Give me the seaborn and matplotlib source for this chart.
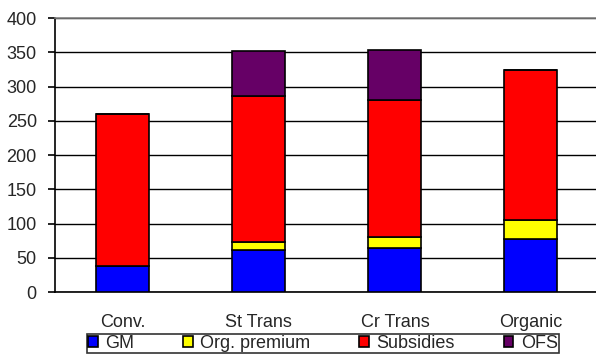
import numpy as np
import pandas as pd
import matplotlib
matplotlib.use("Agg")
import matplotlib.pyplot as plt
import seaborn as sns
from matplotlib.patches import Patch

categories = ["Conv.", "St Trans", "Cr Trans", "Organic"]
gm = [38, 61, 64, 77]
org_premium = [0, 12, 17, 28]
subsidies = [222, 213, 200, 219]
ofs = [0, 66, 72, 0]

series_names = ["GM", "Org. premium", "Subsidies", "OFS"]
series_values = [gm, org_premium, subsidies, ofs]
series_colors = ["#0000FF", "#FFFF00", "#FF0000", "#660066"]
y_ticks = [0, 50, 100, 150, 200, 250, 300, 350, 400]

sns.set_style("white")
plt.rcParams["font.family"] = ["Liberation Sans", "DejaVu Sans"]

fig = plt.figure(figsize=(5.96, 3.54), dpi=100)
ax = fig.add_axes([0.092, 0.175, 0.913, 0.774])

bottom = np.zeros(len(categories))
for name, vals, col in zip(series_names, series_values, series_colors):
    df = pd.DataFrame({"cat": categories, "val": vals})
    sns.barplot(data=df, x="cat", y="val", color=col, bottom=bottom,
                width=0.39, edgecolor="black", linewidth=1.2,
                saturation=1, ax=ax, zorder=3, errorbar=None)
    bottom = bottom + np.array(vals)

ax.set_ylim(0, 400)
ax.set_xlim(-0.5, len(categories) - 0.5)
ax.set_yticks(y_ticks)
ax.set_xlabel("")
ax.set_ylabel("")
ax.yaxis.grid(True, color="black", linewidth=1.0, zorder=0)
ax.set_axisbelow(True)

ax.spines["right"].set_visible(False)
ax.spines["top"].set_color("#808080")
ax.spines["top"].set_linewidth(1.2)
for s in ["left", "bottom"]:
    ax.spines[s].set_color("black")
    ax.spines[s].set_linewidth(1.2)

ax.set_xticks(np.arange(-0.5, len(categories) - 0.4, 1.0), minor=True)
ax.tick_params(axis="x", which="major", length=0, pad=16, labelsize=13)
ax.tick_params(axis="x", which="minor", length=5, width=1.2, color="black", direction="out")
ax.tick_params(axis="y", length=5, width=1.2, color="black", direction="out", pad=8,
               labelsize=13, left=True)

handles = [Patch(facecolor=c, edgecolor="black", linewidth=1.2) for c in series_colors]
leg = fig.legend(handles, series_names, loc="lower center", bbox_to_anchor=(0.542, 0.0),
                 ncol=4, frameon=True, fancybox=False, edgecolor="black", fontsize=13,
                 handlelength=0.55, handleheight=0.55, handletextpad=0.4, columnspacing=2.7,
                 borderpad=0.05, borderaxespad=0.05)
leg.get_frame().set_linewidth(1.2)

fig.savefig("out.png", dpi=100)
